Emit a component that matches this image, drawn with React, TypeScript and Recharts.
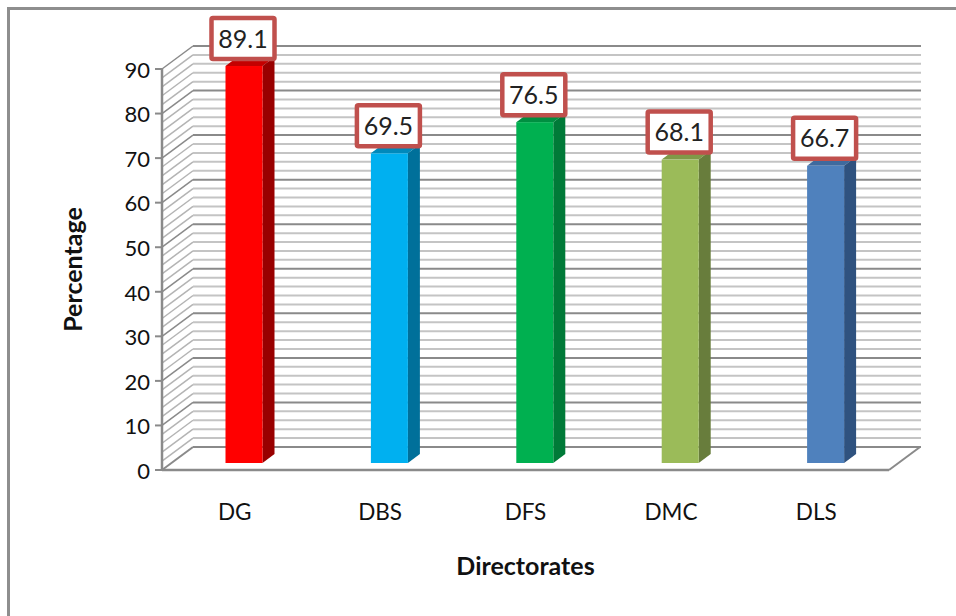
import React from "react";
import {
  ComposedChart,
  Bar,
  XAxis,
  YAxis,
  CartesianGrid,
  LabelList,
  Label,
} from "recharts";

// Survey scores per directorate
const directorates = ["DG", "DBS", "DFS", "DMC", "DLS"];
const percentages = [89.1, 69.5, 76.5, 68.1, 66.7];

const yTicks = [0, 10, 20, 30, 40, 50, 60, 70, 80, 90];
const majorLevels = [10, 20, 30, 40, 50, 60, 70, 80, 90];
const floorLevel = [0];
const minorLevels = [
  2, 4, 6, 8, 12, 14, 16, 18, 22, 24, 26, 28, 32, 34, 36, 38, 42, 44, 46, 48,
  52, 54, 56, 58, 62, 64, 66, 68, 72, 74, 76, 78, 82, 84, 86, 88,
];

const frontColors = ["#ff0000", "#00b0f0", "#00b050", "#9bbb59", "#4f81bd"];
const sideColors = ["#990000", "#00709a", "#007a38", "#687d3c", "#2f527f"];
const topColors = ["#c40000", "#0089bb", "#008f41", "#7f9a48", "#3f6a9e"];

const rows = directorates.map((name, i) => ({ name, value: percentages[i] }));

// Oblique projection of the 3D box
const WALL_DX = 31;
const WALL_DY = -23;
const BAR_DX = 9.5;
const BAR_DY = -7;
const FACE_DX = 12;
const FACE_DY = -9;

const AXIS_GREY = "#8a8a8a";
const MINOR_GREY = "#c4c4c4";
const SIDE_GREY = "#b4b4b4";
const FONT = "Lato, 'Open Sans', sans-serif";

// One level drawn across the left wall and the back wall
function wallLine(sideColor: string, backColor: string) {
  return (p: any) => {
    const { x1, x2, y1 } = p;
    return (
      <g key={p.key}>
        <line
          x1={x1}
          y1={y1}
          x2={x1 + WALL_DX}
          y2={y1 + WALL_DY}
          stroke={sideColor}
          strokeWidth={1.5}
        />
        <line
          x1={x1 + WALL_DX}
          y1={y1 + WALL_DY}
          x2={x2 + WALL_DX + 1}
          y2={y1 + WALL_DY}
          stroke={backColor}
          strokeWidth={2}
        />
      </g>
    );
  };
}

// Zero level: back edge of the floor plus its right-hand edge
function floorLine(p: any) {
  const { x1, x2, y1 } = p;
  return (
    <g key={p.key}>
      <line x1={x1} y1={y1} x2={x1 + WALL_DX} y2={y1 + WALL_DY} stroke={AXIS_GREY} strokeWidth={2} />
      <line
        x1={x1 + WALL_DX}
        y1={y1 + WALL_DY}
        x2={x2 + WALL_DX + 1}
        y2={y1 + WALL_DY}
        stroke={AXIS_GREY}
        strokeWidth={2}
      />
      <line x1={x2} y1={y1} x2={x2 + WALL_DX} y2={y1 + WALL_DY} stroke={AXIS_GREY} strokeWidth={2} />
    </g>
  );
}

function Box3D(props: any) {
  const { x, y, width, height, index } = props;
  const left = x + BAR_DX;
  const right = left + width;
  const top = y + BAR_DY;
  const bottom = top + height;
  return (
    <g>
      <polygon
        points={`${left},${top} ${left + FACE_DX},${top + FACE_DY} ${right + FACE_DX},${top + FACE_DY} ${right},${top}`}
        fill={topColors[index]}
      />
      <polygon
        points={`${right},${top} ${right + FACE_DX},${top + FACE_DY} ${right + FACE_DX},${bottom + FACE_DY} ${right},${bottom}`}
        fill={sideColors[index]}
      />
      <rect x={left} y={top} width={width} height={height} fill={frontColors[index]} />
    </g>
  );
}

function ValueBadge(props: any) {
  const { x, y, width, value } = props;
  const boxW = 63;
  const boxH = 41;
  const cx = x + width / 2 + BAR_DX - 1;
  const boxBottom = y + BAR_DY - 7;
  return (
    <g>
      <rect
        x={cx - boxW / 2}
        y={boxBottom - boxH}
        width={boxW}
        height={boxH}
        rx={1.5}
        fill="#ffffff"
        stroke="#c0504d"
        strokeWidth={4.5}
      />
      <text
        x={cx}
        y={boxBottom - boxH / 2 + 9}
        textAnchor="middle"
        fontFamily={FONT}
        fontSize={25}
        fill="#222222"
      >
        {Number(value).toFixed(1)}
      </text>
    </g>
  );
}

export default function App() {
  return (
    <div
      style={{
        position: "fixed",
        left: 0,
        top: 0,
        width: 956,
        height: 616,
        background: "#ffffff",
        overflow: "hidden",
      }}
    >
      <div
        style={{
          position: "absolute",
          left: 7,
          top: 7,
          width: 949,
          height: 609,
          borderLeft: "3px solid #8e8e8e",
          borderTop: "3px solid #8e8e8e",
          boxSizing: "border-box",
        }}
      />
      <div style={{ position: "absolute", left: 0, top: 0 }}>
        <ComposedChart
          width={956}
          height={616}
          data={rows}
          margin={{ top: 69, right: 67, bottom: 26, left: 52 }}
        >
          <CartesianGrid
            vertical={false}
            horizontalValues={minorLevels}
            horizontal={wallLine(SIDE_GREY, MINOR_GREY)}
          />
          <CartesianGrid
            vertical={false}
            horizontalValues={majorLevels}
            horizontal={wallLine(AXIS_GREY, AXIS_GREY)}
          />
          <CartesianGrid vertical={false} horizontalValues={floorLevel} horizontal={floorLine} />
          <XAxis
            dataKey="name"
            tickLine={false}
            axisLine={{ stroke: AXIS_GREY, strokeWidth: 2.5 }}
            height={120}
            tickMargin={28}
            tick={{ fontFamily: FONT, fontSize: 22.5, fill: "#111111" }}
          >
            <Label
              value="Directorates"
              position="insideBottom"
              offset={15}
              style={{ fontFamily: FONT, fontSize: 25, fontWeight: 700, fill: "#111111" }}
            />
          </XAxis>
          <YAxis
            width={110}
            domain={[0, 90]}
            ticks={yTicks}
            interval={0}
            tickSize={7}
            tickMargin={5}
            axisLine={{ stroke: AXIS_GREY, strokeWidth: 2.5 }}
            tickLine={{ stroke: AXIS_GREY, strokeWidth: 2 }}
            tick={{ fontFamily: FONT, fontSize: 22, fill: "#111111", dy: 1 }}
          >
            <Label
              value="Percentage"
              angle={-90}
              position="insideLeft"
              offset={21}
              style={{
                fontFamily: FONT,
                fontSize: 25,
                fontWeight: 700,
                fill: "#111111",
                textAnchor: "middle",
              }}
            />
          </YAxis>
          <Bar dataKey="value" barSize={37} isAnimationActive={false} shape={<Box3D />}>
            <LabelList dataKey="value" content={<ValueBadge />} />
          </Bar>
        </ComposedChart>
      </div>
    </div>
  );
}
